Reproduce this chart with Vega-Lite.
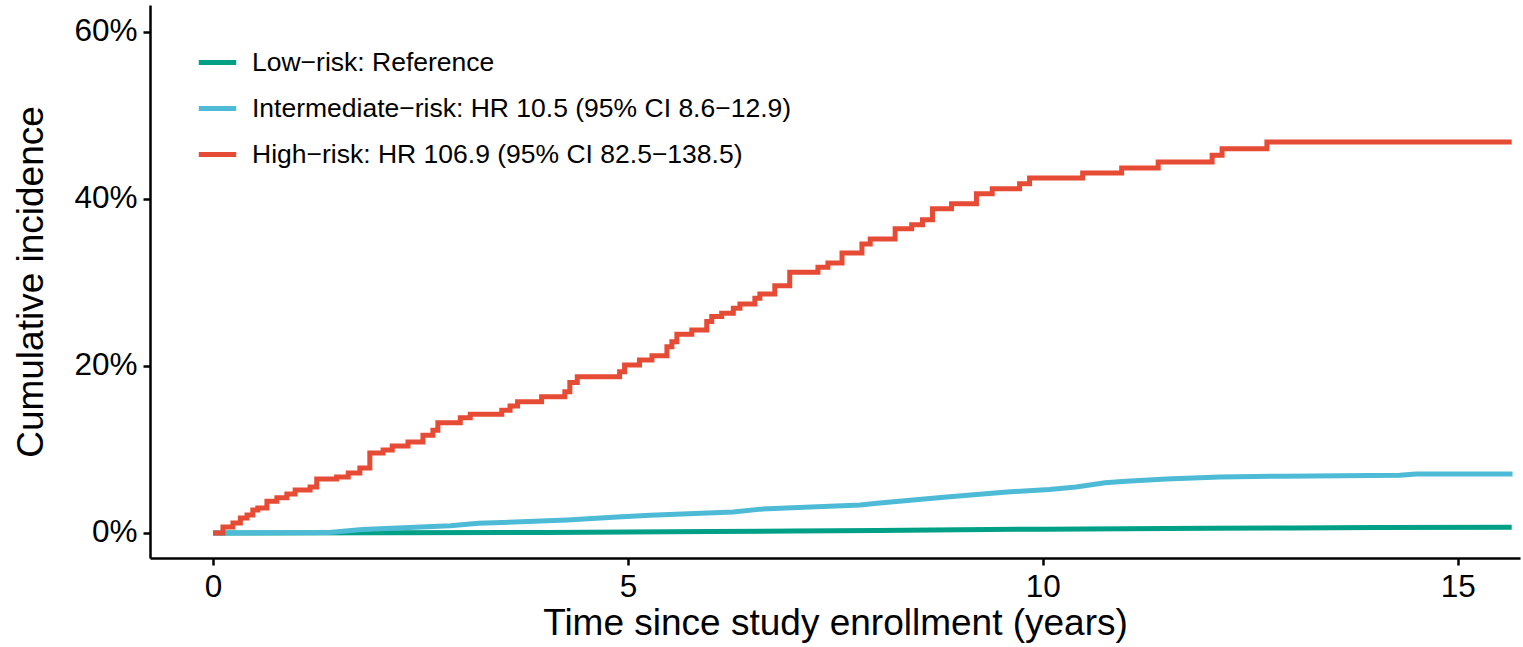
{
  "$schema": "https://vega.github.io/schema/vega-lite/v6.json",
  "width": 1370,
  "height": 553,
  "autosize": {"type": "none"},
  "padding": {"left": 150, "top": 5, "right": 3, "bottom": 89},
  "background": "white",
  "config": {
    "font": "Liberation Sans",
    "view": {"stroke": null},
    "axis": {
      "grid": false,
      "domainColor": "black",
      "domainWidth": 2.5,
      "tickColor": "black",
      "tickWidth": 2.5,
      "tickSize": 7,
      "labelFontSize": 31.5,
      "labelColor": "black",
      "labelPadding": 6,
      "titleFontSize": 37,
      "titleFontWeight": "normal",
      "titleColor": "black"
    },
    "legend": {
      "orient": "none",
      "legendX": 46,
      "legendY": 36,
      "padding": 0,
      "symbolType": "stroke",
      "symbolSize": 1400,
      "symbolStrokeWidth": 5,
      "labelFontSize": 26.5,
      "labelColor": "black",
      "labelOffset": 13,
      "labelLimit": 0,
      "rowPadding": 11
    }
  },
  "datasets": {
    "low": [
      {"group": "Low", "t": 0, "v": 0},
      {"group": "Low", "t": 2, "v": 0.0002},
      {"group": "Low", "t": 4, "v": 0.0006},
      {"group": "Low", "t": 5, "v": 0.001},
      {"group": "Low", "t": 6, "v": 0.0016},
      {"group": "Low", "t": 7, "v": 0.0022},
      {"group": "Low", "t": 8, "v": 0.003},
      {"group": "Low", "t": 9, "v": 0.0038},
      {"group": "Low", "t": 10, "v": 0.0045},
      {"group": "Low", "t": 11, "v": 0.005},
      {"group": "Low", "t": 12, "v": 0.0056},
      {"group": "Low", "t": 13, "v": 0.006},
      {"group": "Low", "t": 14, "v": 0.0064},
      {"group": "Low", "t": 15.65, "v": 0.0068}
    ],
    "mid": [
      {"group": "Intermediate", "t": 0, "v": 0},
      {"group": "Intermediate", "t": 1.4, "v": 0.0005},
      {"group": "Intermediate", "t": 1.8, "v": 0.004},
      {"group": "Intermediate", "t": 2.86, "v": 0.0085},
      {"group": "Intermediate", "t": 3.2, "v": 0.0115},
      {"group": "Intermediate", "t": 4.27, "v": 0.0155},
      {"group": "Intermediate", "t": 4.87, "v": 0.019},
      {"group": "Intermediate", "t": 5.27, "v": 0.0212},
      {"group": "Intermediate", "t": 6.27, "v": 0.025},
      {"group": "Intermediate", "t": 6.6, "v": 0.0285},
      {"group": "Intermediate", "t": 7.8, "v": 0.0335},
      {"group": "Intermediate", "t": 8.0, "v": 0.0355},
      {"group": "Intermediate", "t": 8.84, "v": 0.043},
      {"group": "Intermediate", "t": 9.57, "v": 0.049},
      {"group": "Intermediate", "t": 10.08, "v": 0.052},
      {"group": "Intermediate", "t": 10.4, "v": 0.055},
      {"group": "Intermediate", "t": 10.75, "v": 0.06},
      {"group": "Intermediate", "t": 11.0, "v": 0.062},
      {"group": "Intermediate", "t": 11.49, "v": 0.0646},
      {"group": "Intermediate", "t": 12.13, "v": 0.067},
      {"group": "Intermediate", "t": 12.89, "v": 0.068},
      {"group": "Intermediate", "t": 14.3, "v": 0.069},
      {"group": "Intermediate", "t": 14.5, "v": 0.0705},
      {"group": "Intermediate", "t": 15.66, "v": 0.0705}
    ],
    "high": [
      {"group": "High", "t": 0, "v": 0},
      {"group": "High", "t": 0.12, "v": 0.0072},
      {"group": "High", "t": 0.24, "v": 0.012},
      {"group": "High", "t": 0.33, "v": 0.018},
      {"group": "High", "t": 0.41, "v": 0.0215},
      {"group": "High", "t": 0.48, "v": 0.0275},
      {"group": "High", "t": 0.54, "v": 0.03},
      {"group": "High", "t": 0.65, "v": 0.038},
      {"group": "High", "t": 0.77, "v": 0.042},
      {"group": "High", "t": 0.89, "v": 0.0467},
      {"group": "High", "t": 0.99, "v": 0.0515},
      {"group": "High", "t": 1.17, "v": 0.055},
      {"group": "High", "t": 1.25, "v": 0.0646},
      {"group": "High", "t": 1.49, "v": 0.067},
      {"group": "High", "t": 1.63, "v": 0.0718},
      {"group": "High", "t": 1.77, "v": 0.0778},
      {"group": "High", "t": 1.89, "v": 0.0958},
      {"group": "High", "t": 2.05, "v": 0.0993},
      {"group": "High", "t": 2.16, "v": 0.104},
      {"group": "High", "t": 2.35, "v": 0.109},
      {"group": "High", "t": 2.53, "v": 0.117},
      {"group": "High", "t": 2.65, "v": 0.123},
      {"group": "High", "t": 2.71, "v": 0.132},
      {"group": "High", "t": 2.98, "v": 0.138},
      {"group": "High", "t": 3.1, "v": 0.142},
      {"group": "High", "t": 3.48, "v": 0.147},
      {"group": "High", "t": 3.58, "v": 0.152},
      {"group": "High", "t": 3.67, "v": 0.157},
      {"group": "High", "t": 3.96, "v": 0.163},
      {"group": "High", "t": 4.24, "v": 0.169},
      {"group": "High", "t": 4.3, "v": 0.18},
      {"group": "High", "t": 4.39, "v": 0.187},
      {"group": "High", "t": 4.9, "v": 0.193},
      {"group": "High", "t": 4.96, "v": 0.201},
      {"group": "High", "t": 5.14, "v": 0.207},
      {"group": "High", "t": 5.29, "v": 0.212},
      {"group": "High", "t": 5.47, "v": 0.223},
      {"group": "High", "t": 5.53, "v": 0.229},
      {"group": "High", "t": 5.59, "v": 0.238},
      {"group": "High", "t": 5.77, "v": 0.243},
      {"group": "High", "t": 5.95, "v": 0.253},
      {"group": "High", "t": 6.01, "v": 0.259},
      {"group": "High", "t": 6.13, "v": 0.263},
      {"group": "High", "t": 6.27, "v": 0.269},
      {"group": "High", "t": 6.35, "v": 0.274},
      {"group": "High", "t": 6.53, "v": 0.281},
      {"group": "High", "t": 6.59, "v": 0.286},
      {"group": "High", "t": 6.77, "v": 0.296},
      {"group": "High", "t": 6.95, "v": 0.312},
      {"group": "High", "t": 7.29, "v": 0.318},
      {"group": "High", "t": 7.41, "v": 0.323},
      {"group": "High", "t": 7.58, "v": 0.335},
      {"group": "High", "t": 7.82, "v": 0.346},
      {"group": "High", "t": 7.92, "v": 0.352},
      {"group": "High", "t": 8.22, "v": 0.364},
      {"group": "High", "t": 8.42, "v": 0.369},
      {"group": "High", "t": 8.55, "v": 0.375},
      {"group": "High", "t": 8.67, "v": 0.388},
      {"group": "High", "t": 8.9, "v": 0.394},
      {"group": "High", "t": 9.2, "v": 0.406},
      {"group": "High", "t": 9.39, "v": 0.412},
      {"group": "High", "t": 9.72, "v": 0.418},
      {"group": "High", "t": 9.84, "v": 0.425},
      {"group": "High", "t": 10.48, "v": 0.431},
      {"group": "High", "t": 10.95, "v": 0.437},
      {"group": "High", "t": 11.39, "v": 0.444},
      {"group": "High", "t": 12.04, "v": 0.452},
      {"group": "High", "t": 12.16, "v": 0.46},
      {"group": "High", "t": 12.7, "v": 0.468},
      {"group": "High", "t": 15.65, "v": 0.468}
    ]
  },
  "encoding": {
    "x": {
      "field": "t",
      "type": "quantitative",
      "scale": {"domain": [-0.759, 15.75], "nice": false, "zero": false},
      "axis": {"values": [0, 5, 10, 15], "title": "Time since study enrollment (years)", "titlePadding": 3}
    },
    "y": {
      "field": "v",
      "type": "quantitative",
      "scale": {"domain": [-0.03, 0.632], "nice": false, "zero": false},
      "axis": {"values": [0, 0.2, 0.4, 0.6], "format": ".0%", "title": "Cumulative incidence", "titlePadding": 23}
    },
    "color": {
      "field": "group",
      "type": "nominal",
      "scale": {
        "domain": ["Low", "Intermediate", "High"],
        "range": ["#00A087", "#4DBBD5", "#E64B35"]
      },
      "legend": {
        "title": null,
        "labelExpr": "datum.label == 'Low' ? 'Low−risk: Reference' : datum.label == 'Intermediate' ? 'Intermediate−risk: HR 10.5 (95% CI 8.6−12.9)' : 'High−risk: HR 106.9 (95% CI 82.5−138.5)'"
      }
    }
  },
  "layer": [
    {"data": {"name": "low"}, "mark": {"type": "line", "strokeWidth": 5}},
    {"data": {"name": "mid"}, "mark": {"type": "line", "strokeWidth": 5}},
    {"data": {"name": "high"}, "mark": {"type": "line", "strokeWidth": 5, "interpolate": "step-after"}}
  ]
}
